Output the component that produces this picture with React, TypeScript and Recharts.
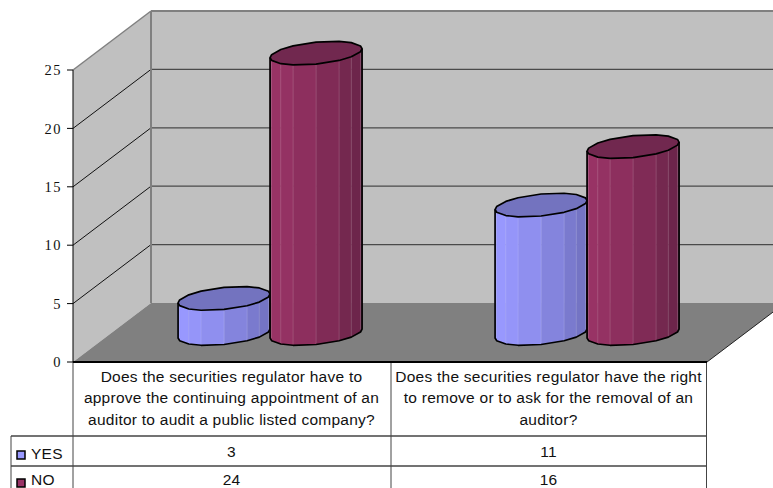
import React from "react";
import { BarChart, Bar, XAxis, YAxis } from "recharts";

const categories = [
  "Does the securities regulator have to approve the continuing appointment of an auditor to audit a public listed company?",
  "Does the securities regulator have the right to remove or to ask for the removal of an auditor?",
];
const categoryLines = [
  ["Does the securities regulator have to", "approve the continuing appointment of an", "auditor to audit a public listed company?"],
  ["Does the securities regulator have the right", "to remove or to ask for the removal of an", "auditor?"],
];
const yesValues = [3, 11];
const noValues = [24, 16];
const yTicks = [0, 5, 10, 15, 20, 25];

const rows = categories.map((name, i) => ({ name, YES: yesValues[i], NO: noValues[i] }));

// Chart geometry, in page pixels
const W = 773;
const H = 488;
const LEFT = 73;
const RIGHT = 707;
const TOP = 70;
const BOTTOM = 362;
const DEPTH_X = 78;
const DEPTH_Y = 59;
const COL_MID = 391;
const TABLE_LEFT = 11;
const ROW_1 = 436;
const ROW_2 = 466;
const SANS = "'Liberation Sans', Arial, sans-serif";
const SERIF = "'Liberation Serif', 'Times New Roman', serif";

type Shade = { light: number[]; dark: number[]; top: string };
const YES_SHADE: Shade = { light: [153, 153, 255], dark: [112, 112, 190], top: "#7373bf" };
const NO_SHADE: Shade = { light: [153, 51, 102], dark: [104, 36, 72], top: "#71284f" };

// Rim vertices of the cylinder's lower half, in degrees from its right edge
const RIM_ANGLES = [0, 15, 40, 60, 90, 120, 140, 165, 180];

const mix = (a: number[], b: number[], t: number) =>
  `rgb(${a.map((v, i) => Math.round(v + (b[i] - v) * t)).join(",")})`;

// Faceted cylinder standing in the middle of the floor's depth
function Cylinder(props: any) {
  const { x, y, width, height, shade } = props;
  const cx = x + width / 2 + DEPTH_X / 2 - 0.5;
  const top = y - DEPTH_Y / 2 + 1;
  const base = y + height - DEPTH_Y / 2 + 1;
  const r = width / 2;
  const at = (deg: number, cy: number) => {
    const a = (deg * Math.PI) / 180;
    return [cx + r * Math.cos(a), cy + 11 * Math.sin(a) - 4.5 * Math.cos(a)];
  };
  const tFront = RIM_ANGLES.map((d) => at(d, top));
  const bFront = RIM_ANGLES.map((d) => at(d, base));
  const tBack = RIM_ANGLES.slice(1, -1).reverse().map((d) => at(-d, top));
  const facets = [];
  for (let k = 0; k < RIM_ANGLES.length - 1; k++) {
    const pts = [tFront[k], tFront[k + 1], bFront[k + 1], bFront[k]].map((p) => p.join(",")).join(" ");
    const xMid = (tFront[k][0] + tFront[k + 1][0]) / 2;
    const u = Math.pow((xMid - (cx - r)) / width, 1.4);
    const col = mix(shade.light, shade.dark, u);
    facets.push(<polygon key={k} points={pts} fill={col} stroke={col} strokeWidth={0.5} />);
    facets.push(
      <line key={`s${k}`} x1={tFront[k][0]} y1={tFront[k][1]} x2={bFront[k][0]} y2={bFront[k][1]} stroke="#fff" strokeOpacity={0.14} />
    );
  }
  const outline = [tFront[0], ...bFront, tFront[tFront.length - 1]];
  const lid = [...tFront, ...tBack];
  return (
    <g>
      {facets}
      <polyline
        points={outline.map((p) => p.join(",")).join(" ")}
        fill="none"
        stroke="#000"
        strokeWidth={1.7}
        strokeLinejoin="round"
      />
      <polygon
        points={lid.map((p) => p.join(",")).join(" ")}
        fill={shade.top}
        stroke="#000"
        strokeWidth={1.7}
        strokeLinejoin="round"
      />
    </g>
  );
}

// Side wall, back wall, floor and their gridlines
function Room() {
  const step = (BOTTOM - TOP) / 25;
  const backX = LEFT + DEPTH_X;
  const floorRightY = BOTTOM - ((W - RIGHT) * DEPTH_Y) / DEPTH_X;
  return (
    <g>
      <polygon points={`${LEFT},${TOP} ${backX},${TOP - DEPTH_Y} ${backX},${BOTTOM - DEPTH_Y} ${LEFT},${BOTTOM}`} fill="#c0c0c0" />
      <rect x={backX} y={TOP - DEPTH_Y} width={W - backX} height={BOTTOM - TOP} fill="#c0c0c0" />
      <polygon points={`${LEFT},${BOTTOM} ${backX},${BOTTOM - DEPTH_Y} ${W},${BOTTOM - DEPTH_Y} ${W},${floorRightY} ${RIGHT},${BOTTOM}`} fill="#808080" />
      {yTicks.filter((v) => v > 0 && v < 25).map((v) => {
        const yy = BOTTOM - v * step;
        return (
          <g key={v}>
            <line x1={LEFT} y1={yy} x2={backX} y2={yy - DEPTH_Y} stroke="#111" strokeWidth={1} />
            <line x1={backX} y1={yy - DEPTH_Y} x2={W} y2={yy - DEPTH_Y} stroke="#4a4a4a" strokeWidth={1.2} />
          </g>
        );
      })}
      <line x1={LEFT} y1={TOP} x2={backX} y2={TOP - DEPTH_Y} stroke="#808080" strokeWidth={1.5} />
      <line x1={backX} y1={TOP - DEPTH_Y} x2={W} y2={TOP - DEPTH_Y} stroke="#808080" strokeWidth={2} />
      <line x1={backX} y1={TOP - DEPTH_Y} x2={backX} y2={BOTTOM - DEPTH_Y} stroke="#808080" strokeWidth={2} />
      <line x1={RIGHT} y1={BOTTOM} x2={W} y2={floorRightY} stroke="#222" strokeWidth={1} />
    </g>
  );
}

// Data-table rules and the legend keys in its first column
function TableRules() {
  const rule = "#444";
  const legend = [
    { label: "YES", fill: "#9999ff", y: ROW_1 + 15, base: ROW_1 + 23 },
    { label: "NO", fill: "#993366", y: ROW_2 + 13, base: ROW_2 + 18.6 },
  ];
  return (
    <g>
      <line x1={LEFT} y1={BOTTOM} x2={LEFT} y2={H} stroke={rule} />
      <line x1={COL_MID} y1={BOTTOM} x2={COL_MID} y2={H} stroke={rule} />
      <line x1={RIGHT - 0.5} y1={BOTTOM} x2={RIGHT - 0.5} y2={H} stroke={rule} />
      <line x1={TABLE_LEFT} y1={ROW_1} x2={RIGHT} y2={ROW_1} stroke={rule} strokeWidth={1.3} />
      <line x1={TABLE_LEFT} y1={ROW_2} x2={RIGHT} y2={ROW_2} stroke={rule} strokeWidth={1.3} />
      <line x1={TABLE_LEFT} y1={ROW_1} x2={TABLE_LEFT} y2={H} stroke={rule} />
      {legend.map((l) => (
        <g key={l.label}>
          <rect x={17} y={l.y} width={8} height={8} fill={l.fill} stroke="#000" strokeWidth={1.5} />
          <text x={31} y={l.base} fontFamily={SANS} fontSize={15.5} letterSpacing={0.25} fill="#111">
            {l.label}
          </text>
        </g>
      ))}
    </g>
  );
}

// Category heading plus the two value cells beneath it
function TableColumn(props: any) {
  const { x, index } = props;
  const common = { x, textAnchor: "middle" as const, fontFamily: SANS, fontSize: 15.5, letterSpacing: 0.25, fill: "#111" };
  return (
    <g>
      {categoryLines[index].map((line, i) => (
        <text key={i} {...common} y={BOTTOM + 19.5 + i * 21.7}>
          {line}
        </text>
      ))}
      <text {...common} y={BOTTOM + 95}>{yesValues[index]}</text>
      <text {...common} y={BOTTOM + 122.5}>{noValues[index]}</text>
    </g>
  );
}

export default function App() {
  return (
    <div style={{ position: "absolute", left: 0, top: 0, width: W, height: H, overflow: "hidden", background: "#fff" }}>
      <BarChart
        width={W}
        height={H}
        data={rows}
        margin={{ top: TOP, right: W - RIGHT, bottom: 0, left: 0 }}
        barCategoryGap="21%"
        barGap={0}
      >
        <Room />
        <TableRules />
        <XAxis
          dataKey="name"
          height={H - BOTTOM}
          interval={0}
          tickLine={false}
          tickSize={0}
          tickMargin={0}
          axisLine={{ stroke: "#000", strokeWidth: 2 }}
          tick={<TableColumn />}
        />
        <YAxis
          width={LEFT}
          domain={[0, 25]}
          ticks={yTicks}
          interval={0}
          tickSize={6}
          tickMargin={5}
          axisLine={{ stroke: "#000" }}
          tickLine={{ stroke: "#000" }}
          tick={{ fontFamily: SERIF, fontSize: 14.5, fill: "#111", letterSpacing: 1.5 }}
        />
        <Bar dataKey="YES" isAnimationActive={false} shape={(p: any) => <Cylinder {...p} shade={YES_SHADE} />} />
        <Bar dataKey="NO" isAnimationActive={false} shape={(p: any) => <Cylinder {...p} shade={NO_SHADE} />} />
      </BarChart>
    </div>
  );
}
